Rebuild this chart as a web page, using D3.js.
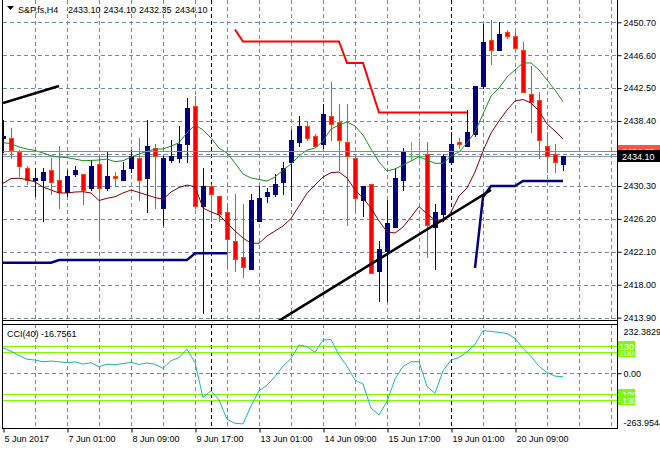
<!DOCTYPE html>
<html><head><meta charset="utf-8">
<script src="https://cdn.jsdelivr.net/npm/d3@7"></script>
<style>
html,body{margin:0;padding:0;background:#fff;overflow:hidden}
svg{display:block}
text{font-family:"Liberation Sans",Arial,sans-serif;font-size:9px;fill:#000}
</style></head><body>
<svg id="chart" width="660" height="450"></svg>
<script>
// ---------------- DATA ----------------
const symbolTitle = "S&P,fs,H4";
const headerValues = ["2433.10", "2434.10", "2432.35", "2434.10"];
const cciTitle = "CCI(40) -16.7561";

const timeLabels = ["5 Jun 2017", "7 Jun 01:00", "8 Jun 09:00", "9 Jun 17:00", "13 Jun 01:00", "14 Jun 09:00", "15 Jun 17:00", "19 Jun 01:00", "20 Jun 09:00"];
const timeLabelBars = [0, 8, 16, 24, 32, 40, 48, 56, 64];
const separatorBars = [26, 56];
const priceGrid = [2413.90, 2418.00, 2422.10, 2426.20, 2430.30, 2434.30, 2438.40, 2442.50, 2446.60, 2450.70];
const priceTickLabels = [2413.90, 2418.00, 2422.10, 2426.20, 2430.30, 2438.40, 2442.50, 2446.60, 2450.70];
const cciAxisTicks = [232.3829, 0, -263.9544];
const cciLevels = [100, -100, 130, -130];

const opens = [2436.25, 2436.25, 2434.5, 2432.5, 2431.0, 2431.0, 2432.25, 2431.0, 2429.5, 2431.75,
  2431.75, 2430.0, 2433.0, 2430.0, 2431.5, 2431.0, 2432.5, 2433.75, 2431.25, 2435.0,
  2427.5, 2433.5, 2433.75, 2435.5, 2440.25, 2427.75, 2430.25, 2429.0, 2427.0, 2423.5,
  2421.5, 2420.0, 2426.0, 2429.0, 2429.25, 2430.75, 2433.25, 2435.75, 2437.75, 2436.5,
  2435.5, 2439.0, 2438.25, 2435.75, 2433.75, 2428.5, 2430.5, 2419.75, 2422.25, 2425.25,
  2431.0, 2434.0, 2434.0, 2434.25, 2425.25, 2426.75, 2433.25, 2435.75, 2435.25, 2436.75,
  2442.75, 2448.5, 2447.25, 2449.5, 2449.0, 2447.25, 2441.75, 2441.0, 2435.25, 2434.25,
  2433.10];
const highs = [2438.5, 2437.5, 2434.75, 2432.75, 2432.5, 2432.5, 2433.75, 2435.25, 2432.25, 2432.75,
  2431.75, 2433.5, 2434.0, 2434.5, 2432.0, 2433.25, 2434.75, 2436.25, 2438.5, 2435.5,
  2434.0, 2436.0, 2437.75, 2441.25, 2441.5, 2432.5, 2430.5, 2429.0, 2428.0, 2429.25,
  2428.0, 2429.25, 2430.25, 2430.0, 2431.75, 2433.25, 2437.25, 2439.0, 2438.25, 2436.75,
  2440.5, 2443.25, 2440.5, 2440.5, 2434.0, 2430.25, 2430.5, 2423.5, 2428.5, 2432.5,
  2435.0, 2435.75, 2436.25, 2435.75, 2428.0, 2434.25, 2437.0, 2436.25, 2439.75, 2442.75,
  2450.5, 2451.0, 2450.75, 2449.75, 2449.5, 2448.25, 2445.25, 2442.0, 2437.0, 2435.5,
  2434.10];
const lows = [2434.5, 2433.75, 2431.5, 2430.5, 2429.0, 2426.0, 2429.25, 2427.5, 2429.0, 2431.5,
  2428.0, 2429.75, 2423.75, 2429.75, 2430.25, 2431.0, 2432.0, 2428.5, 2427.0, 2427.5,
  2425.5, 2433.25, 2433.25, 2433.25, 2427.5, 2414.5, 2426.0, 2426.0, 2420.25, 2419.75,
  2419.0, 2420.0, 2426.0, 2428.25, 2429.0, 2429.25, 2428.5, 2435.25, 2436.0, 2435.25,
  2435.0, 2436.0, 2432.25, 2425.5, 2427.0, 2426.5, 2419.5, 2416.0, 2416.0, 2425.25,
  2429.75, 2433.5, 2433.5, 2421.5, 2420.0, 2426.0, 2433.0, 2435.0, 2435.25, 2436.5,
  2442.5, 2445.5, 2447.25, 2448.75, 2447.5, 2442.0, 2437.0, 2433.75, 2432.0, 2432.0,
  2432.35];
const closes = [2436.5, 2434.75, 2432.75, 2431.0, 2431.25, 2432.0, 2430.75, 2429.5, 2431.5, 2432.25,
  2429.75, 2432.75, 2430.0, 2431.5, 2431.25, 2432.25, 2434.0, 2431.0, 2435.25, 2434.0,
  2433.75, 2434.0, 2435.5, 2440.0, 2427.75, 2430.25, 2429.25, 2426.75, 2423.75, 2421.25,
  2420.25, 2428.5, 2428.75, 2429.5, 2430.5, 2432.5, 2436.0, 2437.75, 2436.25, 2435.25,
  2439.25, 2438.0, 2436.0, 2434.0, 2428.75, 2430.25, 2419.5, 2422.5, 2425.75, 2431.25,
  2434.5, 2434.0, 2434.0, 2425.5, 2427.0, 2434.0, 2435.5, 2435.5, 2437.0, 2442.75,
  2448.25, 2447.25, 2449.25, 2449.0, 2447.5, 2442.0, 2440.75, 2436.0, 2434.0, 2433.25,
  2434.10];

const maFast = [2435.69, 2435.59, 2435.16, 2434.91, 2434.72, 2434.41, 2434.07, 2433.91, 2433.83, 2433.66,
  2433.45, 2433.48, 2433.54, 2433.66, 2433.33, 2433.45, 2433.91, 2434.29, 2434.60, 2434.91,
  2434.91, 2435.28, 2435.69, 2436.94, 2437.90, 2437.28, 2436.28, 2435.03, 2434.41, 2433.16,
  2431.79, 2431.30, 2431.11, 2430.92, 2431.42, 2432.29, 2433.04, 2434.04, 2434.78, 2435.03,
  2435.91, 2437.40, 2437.90, 2438.27, 2437.78, 2436.65, 2434.91, 2433.29, 2432.17, 2432.42,
  2432.92, 2433.41, 2433.95, 2433.54, 2433.13, 2433.13, 2434.04, 2434.54, 2435.66, 2437.03,
  2439.27, 2441.51, 2442.51, 2443.88, 2444.76, 2445.63, 2445.63, 2444.76, 2443.51, 2442.26,
  2440.80];
const maSlow = [2430.63, 2431.23, 2431.26, 2431.11, 2430.80, 2430.17, 2429.80, 2429.43, 2429.43, 2429.55,
  2429.59, 2429.43, 2428.49, 2428.77, 2428.96, 2429.43, 2429.80, 2429.49, 2429.18, 2428.86,
  2428.64, 2429.55, 2430.11, 2430.42, 2430.21, 2427.56, 2427.06, 2426.68, 2425.69, 2424.69,
  2423.82, 2423.16, 2423.16, 2424.07, 2424.69, 2425.31, 2426.25, 2427.81, 2429.39, 2430.42,
  2431.42, 2431.96, 2432.04, 2431.30, 2429.80, 2428.77, 2427.56, 2425.94, 2424.60, 2424.44,
  2425.19, 2426.43, 2427.74, 2426.81, 2426.06, 2425.81, 2427.06, 2429.05, 2430.05, 2432.04,
  2434.66, 2436.90, 2438.40, 2439.77, 2440.89, 2441.08, 2440.64, 2439.65, 2438.03, 2437.15,
  2436.16];
const _ = null;
const stepRed = [_, _, _, _, _, _, _, _, _, _,
  _, _, _, _, _, _, _, _, _, _,
  _, _, _, _, _, _, _, _, _, 2449.80,
  2448.31, 2448.31, 2448.31, 2448.31, 2448.31, 2448.31, 2448.31, 2448.31, 2448.31, 2448.31,
  2448.31, 2448.31, 2448.31, 2445.63, 2445.63, 2445.63, 2442.51, 2439.46, 2439.46, 2439.46,
  2439.46, 2439.46, 2439.46, 2439.46, 2439.46, 2439.46, 2439.46, 2439.46, 2439.46, _,
  _, _, _, _, _, _, _, _, _, _,
  _];
const stepBlueA = [2420.74, 2420.74, 2420.74, 2420.74, 2420.74, 2420.74, 2420.74, 2421.08, 2421.08, 2421.08,
  2421.08, 2421.08, 2421.08, 2421.08, 2421.08, 2421.08, 2421.08, 2421.08, 2421.08, 2421.08,
  2421.08, 2421.08, 2421.08, 2421.08, 2421.91, 2421.91, 2421.91, 2421.91, 2421.91];
const stepBlueB = [2420.08, 2428.93, 2430.30, 2430.30, 2430.30, 2430.30, 2430.92, 2430.92, 2430.92, 2430.92, 2430.92, 2430.92];
const stepBlueBStart = 59;

const trendBars = [[0, 7], [34, 61]];
const trendPrices = [[2440.64, 2442.76], [2413.20, 2429.80]];
const hLinePrice = 2434.60;
const bidPrice = 2434.10;

const cciValues = [122, 105, 85, 67, 63, 55, 58, 55, 50, 54,
  44, 50, 31, 43, 41, 46, 52, 42, 49, 43,
  23, 60, 75, 115, 51, -117, -84, -128, -221, -240,
  -243, -157, -85, -57, -16, 34, 70, 135, 127, 100,
  159, 161, 87, 33, -33, -52, -167, -200, -136, -28,
  32, 55, 55, -64, -96, 11, 63, 75, 102, 138,
  204, 200, 196, 190, 167, 119, 80, 33, 3, -14,
  -16.7561];

// ---------------- CHART ----------------
const svg = d3.select("#chart");
const L = 3, R = 617, mainBot = 320, cciTop = 324.5, cciBot = 428.5;
const x = d3.scaleLinear().domain([0, 76]).range([3, 611]);
const y = d3.scaleLinear().domain([2413.90, 2450.70]).range([317.6, 22.3]);
const yc = d3.scaleLinear().domain([-263.9544, 232.3829]).range([428.3, 324.7]);
const cx = i => Math.round(x(i)) + 0.5;
const ry = v => Math.round(y(v)) + 0.5;
const ryc = v => Math.round(yc(v)) + 0.5;

const gridColor = "#778899";
const bullColor = "#000080", bearFill = "#ff0000", bearLine = "#ff4500", dojiColor = "#00ff00";

const defs = svg.append("defs");
defs.append("clipPath").attr("id", "clipMain").append("rect")
  .attr("x", 3).attr("y", 0).attr("width", 614).attr("height", 320);
defs.append("clipPath").attr("id", "clipCci").append("rect")
  .attr("x", 3).attr("y", 325).attr("width", 614).attr("height", 103);

const main = svg.append("g").attr("clip-path", "url(#clipMain)");
const sub = svg.append("g").attr("clip-path", "url(#clipCci)");

// grids
const gridBars = d3.range(4, 77, 4);
[[main, 0, 320], [sub, 324, 429]].forEach(([g, y1, y2]) => {
  g.append("g").selectAll("line").data(gridBars).join("line")
    .attr("x1", d => cx(d)).attr("x2", d => cx(d)).attr("y1", y1).attr("y2", y2)
    .attr("stroke", gridColor).attr("stroke-dasharray", "4,3").attr("shape-rendering", "crispEdges");
});
main.append("g").selectAll("line").data(priceGrid).join("line")
  .attr("x1", L).attr("x2", R).attr("y1", d => ry(d)).attr("y2", d => ry(d))
  .attr("stroke", gridColor).attr("stroke-dasharray", "4,3").attr("shape-rendering", "crispEdges");
sub.append("line").attr("x1", L).attr("x2", R).attr("y1", ryc(0)).attr("y2", ryc(0))
  .attr("stroke", gridColor).attr("stroke-dasharray", "4,3").attr("shape-rendering", "crispEdges");

// period separators
[[main, 0, 320], [sub, 324, 429]].forEach(([g, y1, y2]) => {
  g.append("g").selectAll("line").data(separatorBars).join("line")
    .attr("x1", d => cx(d)).attr("x2", d => cx(d)).attr("y1", y1).attr("y2", y2)
    .attr("stroke", "#000").attr("stroke-dasharray", "4,3").attr("shape-rendering", "crispEdges");
});

// bid line
main.append("line").attr("x1", L).attr("x2", R).attr("y1", ry(bidPrice)).attr("y2", ry(bidPrice))
  .attr("stroke", "#8899aa").attr("shape-rendering", "crispEdges");

// candles
const bars = opens.map((o, i) => ({ i, o, h: highs[i], l: lows[i], c: closes[i] }));
const cg = main.append("g").attr("shape-rendering", "crispEdges");
cg.selectAll("line.wick").data(bars).join("line").attr("class", "wick")
  .attr("x1", d => cx(d.i)).attr("x2", d => cx(d.i))
  .attr("y1", d => Math.round(y(d.h))).attr("y2", d => Math.round(y(d.l)) + 1)
  .attr("stroke", d => d.c > d.o ? bullColor : d.c < d.o ? bearLine : dojiColor);
const bodyTop = d => Math.round(y(Math.max(d.o, d.c)));
const bodyH = d => Math.max(1, Math.round(y(Math.min(d.o, d.c))) - bodyTop(d) + 1);
cg.selectAll("rect.bull").data(bars.filter(d => d.c > d.o)).join("rect").attr("class", "bull")
  .attr("x", d => Math.round(x(d.i)) - 2).attr("width", 5)
  .attr("y", bodyTop).attr("height", bodyH).attr("fill", bullColor);
cg.selectAll("rect.bearO").data(bars.filter(d => d.c < d.o)).join("rect").attr("class", "bearO")
  .attr("x", d => Math.round(x(d.i)) - 2).attr("width", 5)
  .attr("y", bodyTop).attr("height", bodyH).attr("fill", bearLine);
cg.selectAll("rect.bearI").data(bars.filter(d => d.c < d.o && bodyH(d) > 2)).join("rect").attr("class", "bearI")
  .attr("x", d => Math.round(x(d.i)) - 1).attr("width", 3)
  .attr("y", d => bodyTop(d) + 1).attr("height", d => bodyH(d) - 2).attr("fill", bearFill);
cg.selectAll("line.doji").data(bars.filter(d => d.c === d.o)).join("line").attr("class", "doji")
  .attr("x1", d => Math.round(x(d.i)) - 2).attr("x2", d => Math.round(x(d.i)) + 3)
  .attr("y1", d => ry(d.o)).attr("y2", d => ry(d.o)).attr("stroke", dojiColor);

// indicators
const lineP = d3.line().defined(d => d != null).x((d, i) => x(i)).y(d => y(d));
main.append("path").attr("d", lineP(maFast)).attr("fill", "none").attr("stroke", "#1e8c1e").attr("stroke-width", 1);
main.append("path").attr("d", lineP(maSlow)).attr("fill", "none").attr("stroke", "#800000").attr("stroke-width", 1);
main.append("path").attr("d", lineP(stepRed)).attr("fill", "none").attr("stroke", "#ff0000").attr("stroke-width", 2);
main.append("path").attr("d", d3.line().x((d, i) => x(i)).y(d => y(d))(stepBlueA))
  .attr("fill", "none").attr("stroke", "#000080").attr("stroke-width", 2.5);
main.append("path").attr("d", d3.line().x((d, i) => x(i + stepBlueBStart)).y(d => y(d))(stepBlueB))
  .attr("fill", "none").attr("stroke", "#000080").attr("stroke-width", 2.5);

// objects
main.append("line").attr("x1", L).attr("x2", R).attr("y1", ry(hLinePrice)).attr("y2", ry(hLinePrice))
  .attr("stroke", "#ff5a4a").attr("shape-rendering", "crispEdges");
main.append("g").selectAll("line").data(trendBars.map((b, k) => ({ b, p: trendPrices[k] }))).join("line")
  .attr("x1", d => x(d.b[0])).attr("x2", d => x(d.b[1]))
  .attr("y1", d => y(d.p[0])).attr("y2", d => y(d.p[1]))
  .attr("stroke", "#000").attr("stroke-width", 2.6);

// CCI panel
sub.append("g").selectAll("line").data(cciLevels).join("line")
  .attr("x1", L).attr("x2", R).attr("y1", d => ryc(d)).attr("y2", d => ryc(d))
  .attr("stroke", "#7cfc00").attr("shape-rendering", "crispEdges");
sub.append("path").attr("d", d3.line().x((d, i) => x(i)).y(d => yc(d))(cciValues))
  .attr("fill", "none").attr("stroke", "#20b2aa").attr("stroke-width", 1);

// borders
const border = svg.append("g").attr("stroke", "#000").attr("shape-rendering", "crispEdges");
border.append("line").attr("x1", 2.5).attr("x2", 2.5).attr("y1", 0).attr("y2", cciBot);
border.append("line").attr("x1", R + 0.5).attr("x2", R + 0.5).attr("y1", 0).attr("y2", cciBot);
border.append("line").attr("x1", 2.5).attr("x2", R + 0.5).attr("y1", mainBot + 0.5).attr("y2", mainBot + 0.5);
border.append("line").attr("x1", 2.5).attr("x2", R + 0.5).attr("y1", cciTop).attr("y2", cciTop);
border.append("line").attr("x1", 2.5).attr("x2", R + 0.5).attr("y1", cciBot).attr("y2", cciBot);

// price axis
const pAxis = svg.append("g").attr("transform", `translate(${R + 0.5},0)`)
  .call(d3.axisRight(y).tickValues(priceTickLabels).tickSize(4).tickPadding(2).tickFormat(d3.format(".2f")));
pAxis.select(".domain").remove();
pAxis.selectAll("text").attr("font-size", null).attr("font-family", null).attr("fill", "#000");
pAxis.selectAll(".tick line").attr("stroke", "#000");

// price label boxes
const boxes = svg.append("g");
[[hLinePrice, "#ff5040"], [bidPrice, "#000"]].forEach(([p, col]) => {
  const yy = y(p);
  boxes.append("rect").attr("x", 618).attr("y", Math.round(yy) - 6).attr("width", 42).attr("height", 12).attr("fill", col);
  boxes.append("text").attr("x", 622).attr("y", Math.round(yy) + 3.5).style("fill", "#fff").text(p.toFixed(2));
});

// CCI axis
const cAxis = svg.append("g").attr("transform", `translate(${R + 0.5},0)`)
  .call(d3.axisRight(yc).tickValues(cciAxisTicks).tickSize(4).tickPadding(2)
    .tickFormat(d => d === 0 ? "0.00" : d.toFixed(4)));
cAxis.select(".domain").remove();
cAxis.selectAll("text").attr("font-size", null).attr("font-family", null).attr("fill", "#000")
  .attr("dy", d => d > 100 ? "1.05em" : d < -100 ? "-0.35em" : "0.32em");
cAxis.selectAll(".tick line").attr("stroke", "#000").attr("display", d => d === 0 ? null : "none");

// CCI level labels
const lv = svg.append("g");
cciLevels.forEach(v => {
  const yy = Math.round(yc(v));
  lv.append("rect").attr("x", 618).attr("y", yy - 5).attr("width", 17).attr("height", 10).attr("fill", "#7cfc00");
  lv.append("text").attr("x", 619).attr("y", yy + 3.5).style("fill", "#fff").text(String(v));
});

// time axis
const tAxis = svg.append("g").attr("transform", `translate(0,${cciBot})`)
  .call(d3.axisBottom(x).tickValues(timeLabelBars).tickSize(4).tickPadding(3)
    .tickFormat((d, k) => timeLabels[k]));
tAxis.select(".domain").remove();
tAxis.selectAll(".tick line").attr("stroke", "#000").attr("transform", "translate(0.5,0)");
tAxis.selectAll("text").attr("font-size", null).attr("font-family", null).attr("fill", "#000")
  .attr("text-anchor", "start").attr("x", 1);

// titles
svg.append("path").attr("d", "M7,6 L14,6 L10.5,10 Z").attr("fill", "#000");
svg.append("text").attr("x", 18).attr("y", 13).text(symbolTitle);
const hdrX = [68, 103.5, 139, 175];
svg.append("g").selectAll("text").data(headerValues).join("text")
  .attr("x", (d, k) => hdrX[k]).attr("y", 13).text(d => d);
svg.append("text").attr("x", 7).attr("y", 337).text(cciTitle);
</script>
</body></html>
